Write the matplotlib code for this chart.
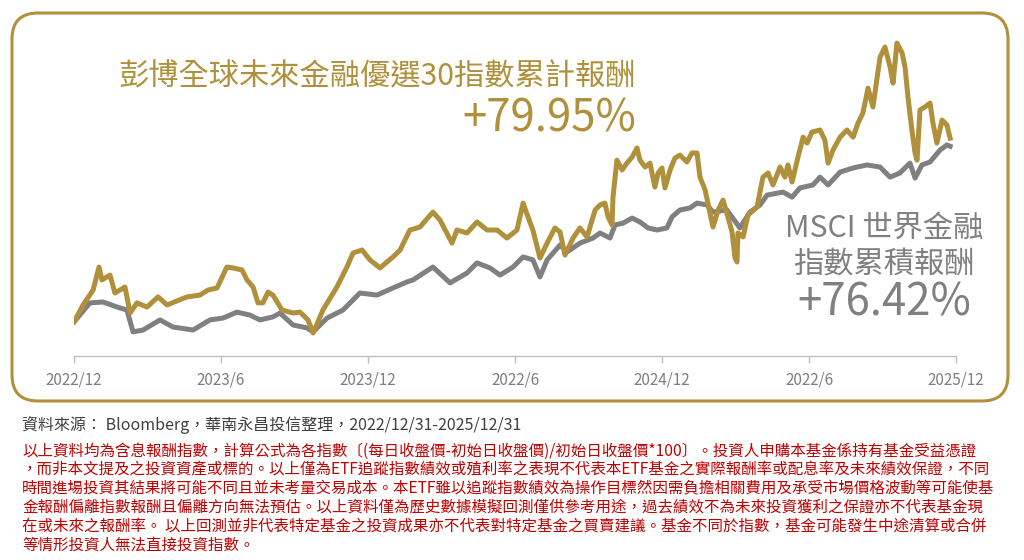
"""Cumulative return comparison chart: Bloomberg future finance 30 vs MSCI world financials"""

import matplotlib
matplotlib.use("Agg")
import matplotlib.pyplot as plt
from matplotlib.patches import FancyBboxPatch

plt.rcParams['font.family'] = ['Noto Sans CJK TC', 'DejaVu Sans']

GOLD = '#B0903A'
GRAY = '#808080'

# months since 2022/12, cumulative return in %
gold_months = [0, 0.37, 0.78, 1.02, 1.14, 1.47, 1.67, 2.08, 2.29, 2.57, 2.98, 3.43, 3.80,
               4.61, 5.14, 5.47, 5.84, 6.24, 6.49, 6.86, 7.06, 7.31, 7.51, 7.71, 7.92,
               8.12, 8.49, 8.94, 9.22, 9.55, 9.76, 10.16, 10.73, 11.14, 11.39, 11.76,
               12.08, 12.49, 13.02, 13.31, 13.71, 14.12, 14.65, 14.94, 15.43, 15.63,
               16.04, 16.45, 16.86, 17.27, 17.67, 18.08, 18.33, 18.53, 18.73, 19.02,
               19.31, 19.63, 19.84, 20.04, 20.37,
               20.65, 20.94, 21.27, 21.47, 21.67, 21.80, 21.96, 22.00, 22.16, 22.37,
               22.57, 22.78, 22.98, 23.10, 23.31, 23.51, 23.71, 23.84, 24.00, 24.12,
               24.33, 24.53, 24.73, 25.02, 25.22, 25.43, 25.55, 25.76, 25.96, 26.08,
               26.29, 26.49, 26.69, 26.86, 26.98, 27.06, 27.10, 27.31, 27.51, 27.88,
               28.12, 28.33, 28.53, 28.82, 29.02, 29.14, 29.31, 29.55, 29.76, 29.92,
               30.12, 30.45, 30.65, 30.78, 30.98, 31.27, 31.55, 31.80, 32.00, 32.20,
               32.41, 32.61, 32.90, 33.10, 33.31, 33.43, 33.59, 33.80, 33.92, 34.04,
               34.20, 34.33, 34.41, 34.53, 34.73, 34.94, 35.06, 35.22, 35.43, 35.63,
               35.76]
gold_ret = [0, 7.4, 13.9, 23.9, 18.3, 20.4, 12.6, 15.2, 3.9, 8.3, 6.5, 10.9, 7.4,
            10.9, 11.7, 13.9, 14.8, 23.9, 23.5, 22.6, 18.3, 15.2, 8.3, 8.3, 13.0,
            11.7, 5.2, 3.9, 4.3, 0.9, -4.8, 5.2, 15.2, 23.9, 30.0, 31.3,
            27.0, 23.5, 28.3, 31.3, 40.0, 41.3, 47.8, 44.3, 34.3, 40.0,
            38.7, 43.5, 40.0, 40.0, 36.5, 40.0, 51.7, 45.7, 40.0, 27.8,
            34.3, 40.9, 39.1, 29.1, 36.5,
            40.9, 37.0, 48.7, 50.9, 51.7, 45.7, 42.2, 54.3, 70.4, 66.1,
            69.1, 71.7, 75.7, 70.4, 67.4, 69.1, 58.7, 64.8, 67.0, 58.3,
            66.1, 71.3, 72.6, 69.6, 73.5, 73.5, 63.0, 57.4, 47.4, 41.3,
            48.7, 53.0, 45.7, 39.1, 27.8, 26.1, 38.7, 37.0, 46.5, 50.0,
            63.0, 64.8, 59.6, 67.4, 63.0, 68.3, 60.9, 71.7, 80.4, 77.8,
            82.6, 83.5, 79.1, 69.1, 74.8, 80.4, 83.5, 80.4, 86.5, 90.9,
            101.7, 93.5, 115.2, 119.6, 110.9, 103.9, 121.3, 117.0, 110.9, 97.8,
            83.5, 73.5, 70.4, 92.2, 93.5, 95.2, 86.5, 77.8, 87.8, 85.7,
            79.95]

msci_months = [0, 0.65, 1.18, 1.76, 2.16, 2.41, 2.82, 3.51, 4.04, 4.86, 5.55, 6.08,
               6.65, 7.18, 7.59, 8.12, 8.41, 8.94, 9.51, 9.76, 10.33, 10.98, 11.67,
               12.37, 13.02, 13.59, 13.84, 14.65, 15.35, 16.04, 16.45, 16.98, 17.39,
               17.92, 18.33, 18.73, 19.02, 19.31, 19.84, 20.12,
               20.65, 21.18, 21.47, 21.88, 22.08, 22.41, 22.78, 23.10, 23.43, 23.80,
               24.20, 24.41, 24.73, 25.14, 25.43, 25.84, 26.08, 26.65, 27.18, 27.59,
               28.00, 28.29, 28.94, 29.31, 29.63, 30.16, 30.45, 30.78, 31.27, 31.80,
               32.37, 32.90, 33.31, 33.71, 34.12, 34.33, 34.61, 34.94, 35.35, 35.63,
               35.76]
msci_ret = [0, 8.3, 8.7, 6.5, 5.2, -4.3, -3.5, 0.9, -2.2, -3.5, 0.9, 1.7,
            4.3, 3.0, 0.9, 2.2, 3.9, -1.3, -2.6, -4.3, 1.7, 5.2, 12.6,
            11.7, 14.8, 17.4, 18.3, 23.9, 17.0, 21.3, 25.7, 23.5, 20.4,
            23.9, 28.3, 27.0, 19.6, 27.0, 33.5, 30.4,
            34.3, 36.5, 38.7, 36.5, 42.2, 43.0, 45.2, 43.5, 40.9, 40.0,
            40.9, 45.7, 48.7, 49.6, 51.7, 50.9, 47.8, 48.7, 40.9, 47.8,
            50.9, 55.2, 56.5, 54.3, 58.3, 59.6, 63.0, 59.6, 65.2, 67.0,
            68.3, 67.4, 63.0, 64.8, 69.1, 62.6, 68.3, 69.6, 74.8, 77.0,
            76.42]

tick_months = [0, 6, 12, 18, 24, 30, 36]
tick_labels = ['2022/12', '2023/6', '2023/12', '2022/6', '2024/12', '2022/6', '2025/12']

disclaimer = [
    '以上資料均為含息報酬指數，計算公式為各指數〔(每日收盤價-初始日收盤價)/初始日收盤價*100〕。投資人申購本基金係持有基金受益憑證',
    '，而非本文提及之投資資產或標的。以上僅為ETF追蹤指數績效或殖利率之表現不代表本ETF基金之實際報酬率或配息率及未來績效保證，不同',
    '時間進場投資其結果將可能不同且並未考量交易成本。本ETF雖以追蹤指數績效為操作目標然因需負擔相關費用及承受市場價格波動等可能使基',
    '金報酬偏離指數報酬且偏離方向無法預估。以上資料僅為歷史數據模擬回測僅供參考用途，過去績效不為未來投資獲利之保證亦不代表基金現',
    '在或未來之報酬率。 以上回測並非代表特定基金之投資成果亦不代表對特定基金之買賣建議。基金不同於指數，基金可能發生中途清算或合併',
    '等情形投資人無法直接投資指數。',
]

fig = plt.figure(figsize=(10.24, 5.6), dpi=100)

# rounded gold frame (inches from lower-left), drawn behind the axes
frame = FancyBboxPatch((0.12, 1.59), 9.96, 3.88, boxstyle='round,pad=0,rounding_size=0.26',
                       transform=fig.dpi_scale_trans, facecolor='white', edgecolor=GOLD,
                       linewidth=2.2, zorder=-1)
fig.patches.append(frame)

ax = fig.add_axes([74 / 1024, 1 - 356 / 560, 882 / 1024, 326 / 560])
ax.set_facecolor('none')
ax.plot(msci_months, msci_ret, color=GRAY, lw=3.6, solid_joinstyle='round', zorder=2)
ax.plot(gold_months, gold_ret, color=GOLD, lw=3.6, solid_joinstyle='round', zorder=3)

ax.set_xlim(0, 36)
ax.set_ylim(-14.8, 127)
ax.set_xticks(tick_months)
ax.set_xticklabels(tick_labels, fontsize=11, color='#7F7F7F')
ax.tick_params(axis='x', length=5, width=1, color='#BFBFBF', pad=6)
ax.set_yticks([])
for side in ['top', 'right', 'left']:
    ax.spines[side].set_visible(False)
ax.spines['bottom'].set_color('#BFBFBF')
ax.spines['bottom'].set_linewidth(1)

# annotations
fig.text(636 / 1024, 1 - 77 / 560, '彭博全球未來金融優選30指數累計報酬', color=GOLD,
         fontsize=21.8, ha='right', va='center')
fig.text(636 / 1024, 1 - 119 / 560, '+79.95%', color=GOLD,
         fontsize=31.5, ha='right', va='center')
fig.text(884 / 1024, 1 - 228 / 560, 'MSCI 世界金融', color=GRAY,
         fontsize=21.8, ha='center', va='center')
fig.text(884 / 1024, 1 - 265 / 560, '指數累積報酬', color=GRAY,
         fontsize=21.8, ha='center', va='center')
fig.text(884 / 1024, 1 - 302 / 560, '+76.42%', color=GRAY,
         fontsize=31.5, ha='center', va='center')

# source and disclaimer
fig.text(22 / 1024, 1 - 425 / 560,
         '資料來源： Bloomberg，華南永昌投信整理，2022/12/31-2025/12/31',
         color='#404040', fontsize=11.5, ha='left', va='center')
for i, line in enumerate(disclaimer):
    fig.text(22 / 1024, 1 - (451 + 18.8 * i) / 560, line, color='#C00000',
             fontsize=11.15, ha='left', va='center')

fig.savefig('out.png', dpi=100)
